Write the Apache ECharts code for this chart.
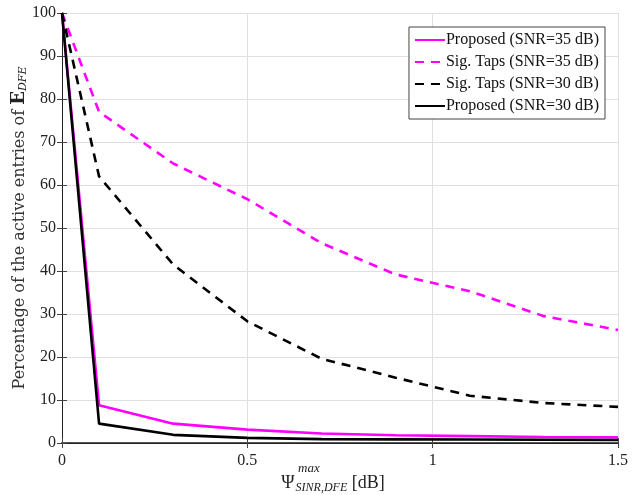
<!DOCTYPE html>
<html><head><meta charset="utf-8">
<script src="https://cdn.jsdelivr.net/npm/echarts@6/dist/echarts.min.js"></script>
<style>html,body{margin:0;padding:0;background:#fff}#c{width:640px;height:495px}</style>
</head><body><div id="c"></div>
<script>
const xValues = [0, 0.1, 0.3, 0.5, 0.7, 0.9, 1.1, 1.3, 1.5];
const proposed35 = [100, 8.8, 4.5, 3.1, 2.2, 1.8, 1.6, 1.4, 1.3];
const sigTaps35 = [100, 77.0, 65.0, 56.7, 46.5, 39.2, 35.3, 29.5, 26.3];
const sigTaps30 = [100, 62.0, 41.5, 28.3, 19.6, 15.2, 11.0, 9.3, 8.4];
const proposed30 = [100, 4.5, 1.9, 1.2, 0.9, 0.85, 0.8, 0.75, 0.7];
const seriesNames = ['Proposed (SNR=35 dB)', 'Sig. Taps (SNR=35 dB)', 'Sig. Taps (SNR=30 dB)', 'Proposed (SNR=30 dB)'];
const xTicks = {0: '0', 0.5: '0.5', 1: '1', 1.5: '1.5'};

const font = 'Liberation Serif';
const pair = arr => xValues.map((x, i) => [x, arr[i]]);
const mk = (name, data, color, type) => ({
  name, type: 'line', data: pair(data), symbol: 'none', showSymbol: false,
  lineStyle: {color, width: 2.6, type: type === 'dashed' ? [9, 7] : 'solid'},
  itemStyle: {color}, emphasis: {disabled: true}, z: 3
});
const chart = echarts.init(document.getElementById('c'), null, {renderer: 'canvas'});
const gridLine = {show: true, lineStyle: {color: '#e0e0e0', width: 1}};
chart.setOption({
  animation: false,
  textStyle: {fontFamily: font},
  grid: {left: 62, right: 22, top: 13, bottom: 52, containLabel: false, outerBoundsMode: 'none'},
  legend: {
    data: seriesNames, orient: 'vertical', right: 35, top: 27,
    backgroundColor: '#fff', borderColor: '#444', borderWidth: 1, borderRadius: 0,
    padding: [5, 6, 5, 5], itemGap: 6, itemWidth: 30, itemHeight: 14,
    itemStyle: {opacity: 0},
    textStyle: {fontFamily: font, fontSize: 16, color: '#111', padding: [0, 0, 0, -4]}
  },
  xAxis: [{
    type: 'value', min: 0, max: 1.5, interval: 0.5,
    axisLine: {show: true, onZero: false, lineStyle: {color: '#555', width: 2}},
    axisTick: {show: true, inside: true, length: 5, lineStyle: {color: '#444'}},
    axisLabel: {fontFamily: font, fontSize: 16, color: '#222', margin: 10,
      formatter: v => xTicks[v] !== undefined ? xTicks[v] : ''},
    splitLine: gridLine,
    name: '{n|Ψ}{sub|SINR,DFE}{n| [dB]}', nameLocation: 'middle', nameGap: 30,
    nameMoveOverlap: false,
    nameTextStyle: {fontFamily: font, color: '#222', padding: [0, 14, 0, 0],
      rich: {n: {fontSize: 18, fontFamily: font, color: '#222'},
             sub: {fontSize: 12, fontStyle: 'italic', fontFamily: font, color: '#222', verticalAlign: 'bottom', padding: [9, 0, 0, 1]}}}
  }, {
    type: 'value', min: 0, max: 1.5, interval: 0.5, position: 'top',
    axisLine: {show: true, lineStyle: {color: '#222', width: 1}},
    axisTick: {show: true, inside: true, length: 5, lineStyle: {color: '#444'}},
    axisLabel: {show: false}, splitLine: {show: false}
  }],
  yAxis: [{
    type: 'value', min: 0, max: 100, interval: 10,
    axisLine: {show: true, lineStyle: {color: '#222', width: 1}},
    axisTick: {show: true, inside: true, length: 5, lineStyle: {color: '#444'}},
    axisLabel: {fontFamily: font, fontSize: 16, color: '#222', margin: 6},
    splitLine: gridLine,
    name: 'Percentage of the active entries of {b|E}{sub|DFE}', nameLocation: 'middle', nameGap: 33,
    nameMoveOverlap: false,
    nameTextStyle: {fontFamily: 'DejaVu Serif', fontSize: 16, color: '#333',
      rich: {b: {fontSize: 18, fontWeight: 'bold', fontFamily: 'DejaVu Serif', color: '#222'},
             sub: {fontSize: 11, fontStyle: 'italic', fontFamily: 'DejaVu Serif', color: '#222', verticalAlign: 'bottom', padding: [8, 0, 0, 0]}}}
  }, {
    type: 'value', min: 0, max: 100, interval: 10, position: 'right',
    axisLine: {show: true, lineStyle: {color: '#222', width: 1}},
    axisTick: {show: true, inside: true, length: 5, lineStyle: {color: '#444'}},
    axisLabel: {show: false}, splitLine: {show: false}
  }],
  graphic: [{type: 'text', left: 298, top: 462, style: {text: 'max', font: 'italic 13px "Liberation Serif"', fill: '#222'}}],
  series: [
    mk(seriesNames[0], proposed35, '#ff00ff', 'solid'),
    mk(seriesNames[1], sigTaps35, '#ff00ff', 'dashed'),
    mk(seriesNames[2], sigTaps30, '#000000', 'dashed'),
    mk(seriesNames[3], proposed30, '#000000', 'solid')
  ]
});
</script></body></html>
